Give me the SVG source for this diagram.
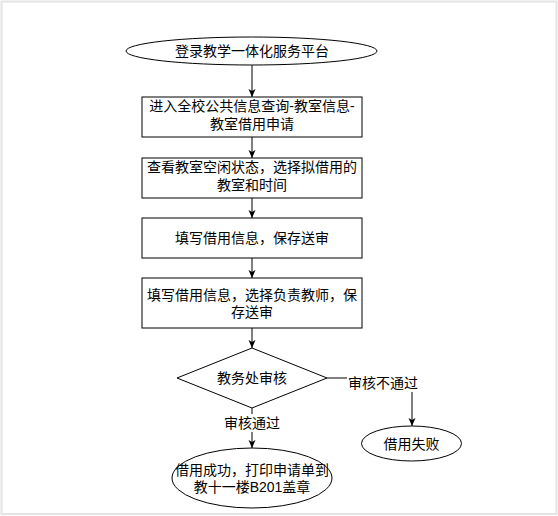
<svg xmlns="http://www.w3.org/2000/svg" width="558" height="516" viewBox="0 0 558 516">
  <defs>
    <style>
      .shape { fill: #ffffff; stroke: #000000; stroke-width: 1; }
      .t { font-family: "Liberation Sans", "Noto Sans CJK SC", sans-serif; font-size: 14px; fill: #000000; text-anchor: middle; }
      .edge { fill: none; stroke: #000000; stroke-width: 1; }
      .lbl-bg { fill: #ffffff; stroke: none; }
    </style>
    <marker id="arrow" markerUnits="userSpaceOnUse" markerWidth="8" markerHeight="8" viewBox="0 0 8 8" refX="8" refY="4" orient="auto">
      <path d="M0,0.5 L8,4 L0,7.5 L2,4 Z" fill="#000000"/>
    </marker>
  </defs>
  <rect x="0" y="0" width="558" height="516" fill="#ffffff"/>
  <rect x="1.5" y="1.5" width="555" height="512.5" fill="none" stroke="#e4e4e4" stroke-width="2"/>

  <g id="connectors">
    <line class="edge" x1="252" y1="65" x2="252" y2="97" marker-end="url(#arrow)"/>
    <line class="edge" x1="252" y1="137" x2="252" y2="158" marker-end="url(#arrow)"/>
    <line class="edge" x1="252" y1="198" x2="252" y2="218" marker-end="url(#arrow)"/>
    <line class="edge" x1="252" y1="258" x2="252" y2="278" marker-end="url(#arrow)"/>
    <line class="edge" x1="252" y1="328" x2="252" y2="348" marker-end="url(#arrow)"/>
    <line class="edge" x1="252" y1="408" x2="252" y2="448" marker-end="url(#arrow)"/>
    <polyline class="edge" points="327,378 412,378 412,426" marker-end="url(#arrow)"/>
    <g id="label-pass">
      <rect class="lbl-bg" x="222" y="414" width="60" height="18"/>
      <text class="t" x="252" y="428">审核通过</text>
    </g>
    <g id="label-fail">
      <rect class="lbl-bg" x="347" y="374" width="72" height="18"/>
      <text class="t" x="383" y="388">审核不通过</text>
    </g>
  </g>

  <g id="start">
    <ellipse class="shape" cx="251.5" cy="51" rx="125.5" ry="14"/>
    <text class="t" x="252" y="56">登录教学一体化服务平台</text>
  </g>

  <g id="step1">
    <rect class="shape" x="142" y="97" width="220" height="40"/>
    <text class="t" x="252" y="111">进入全校公共信息查询-教室信息-</text>
    <text class="t" x="252" y="129">教室借用申请</text>
  </g>

  <g id="step2">
    <rect class="shape" x="142" y="158" width="220" height="40"/>
    <text class="t" x="252" y="172">查看教室空闲状态，选择拟借用的</text>
    <text class="t" x="252" y="190">教室和时间</text>
  </g>

  <g id="step3">
    <rect class="shape" x="142" y="218" width="220" height="40"/>
    <text class="t" x="252" y="243">填写借用信息，保存送审</text>
  </g>

  <g id="step4">
    <rect class="shape" x="142" y="278" width="220" height="50"/>
    <text class="t" x="252" y="300">填写借用信息，选择负责教师，保</text>
    <text class="t" x="252" y="317">存送审</text>
  </g>

  <g id="decision">
    <polygon class="shape" points="252,348 327,378 252,408 177,378"/>
    <text class="t" x="252" y="383">教务处审核</text>
  </g>

  <g id="success">
    <ellipse class="shape" cx="252" cy="478" rx="80" ry="30"/>
    <text class="t" x="252" y="475">借用成功，打印申请单到</text>
    <text class="t" x="252" y="492">教十一楼B201盖章</text>
  </g>

  <g id="fail">
    <ellipse class="shape" cx="411.5" cy="443.5" rx="50" ry="17.5"/>
    <text class="t" x="411.5" y="448.5">借用失败</text>
  </g>
</svg>
